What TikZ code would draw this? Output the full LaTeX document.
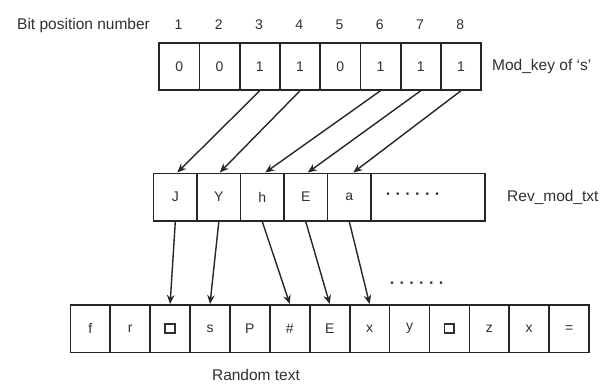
\documentclass[tikz,border=0pt]{standalone}
\usepackage{fontspec}
\setmainfont{Liberation Sans}
\usetikzlibrary{arrows.meta}
\definecolor{linegray}{HTML}{262626}
\definecolor{textgray}{HTML}{303030}
% hollow square standing for an unprintable character
\newcommand\blankchar{{\setlength\fboxrule{1.9pt}\setlength\fboxsep{0pt}\raisebox{-0.5pt}{\fbox{\rule{0pt}{7pt}\hspace{8pt}}}}}
% row of spaced dots
\newcommand\dotrow{·\hspace{4.5pt}·\hspace{4.5pt}·\hspace{4.5pt}·\hspace{4.5pt}·\hspace{4.5pt}·}
\begin{document}
\begin{tikzpicture}[x=1pt,y=-1pt,
  cell/.style={draw=linegray,line width=1.7pt,rectangle,inner sep=0pt,
    anchor=north west,text=textgray,font=\fontsize{14}{16}\selectfont},
  topcell/.style={cell,minimum width=40.25pt,minimum height=47pt},
  midcell/.style={cell,minimum width=43.5pt,minimum height=47.5pt},
  lowcell/.style={cell,minimum width=39.9pt,minimum height=47.7pt},
  lbl/.style={text=textgray,font=\fontsize{15.5}{18}\selectfont,inner sep=0pt},
  num/.style={text=textgray,font=\fontsize{14}{16}\selectfont,inner sep=0pt},
  dots/.style={text=textgray,font=\fontsize{16}{18}\bfseries,inner sep=0pt},
  link/.style={draw=linegray,line width=1.4pt,-{Stealth[length=9pt,width=7.5pt]}}]
\useasboundingbox (0,0) rectangle (609,384);

% key bits and their positions
\node[lbl,anchor=west] (bitlbl) at (17,25) {Bit position number};
\foreach \v [count=\i] in {0,0,1,1,0,1,1,1}{
  \node[topcell] (t\i) at ({158.3+40.25*(\i-1)},42) {\v};
  \node[num] (n\i) at ({158.3+40.25*(\i-0.5)},25) {\i};
}
\node[lbl,anchor=west] (keylbl) at (492,66) {Mod\_key of ‘s’};

% reversed modified text
\foreach \v [count=\i] in {J,Y,h,E,a}{
  \node[midcell] (m\i) at ({152.7+43.5*(\i-1)},172.5) {\v};
}
\node[cell,minimum width=114pt,minimum height=47.5pt] (m6) at (370.2,172.5) {};
\node[dots] (mdots) at (413,196) {\dotrow};
\node[lbl,anchor=west] (revlbl) at (507,197) {Rev\_mod\_txt};

% random text row
\foreach \v [count=\i] in {f,r,\blankchar,s,P,\#,E,x,y,\blankchar,z,x,=}{
  \node[lowcell] (b\i) at ({69.5+39.9*(\i-1)},304) {\v};
}
\node[dots] (bdots) at (417,285) {\dotrow};
\node[lbl] (randlbl) at (256,375) {Random text};

% bits equal to 1 pick the characters
\draw[link] (t3.south) -- ([xshift=2pt]m1.north);
\draw[link] (t4.south) -- ([xshift=1pt]m2.north);
\draw[link] (t6.south) -- ([xshift=3pt]m3.north);
\draw[link] (t7.south) -- ([xshift=2pt]m4.north);
\draw[link] (t8.south) -- ([xshift=4pt]m5.north);

% characters placed into the random text
\draw[link] (m1.south) -- (b3.north);
\draw[link] (m2.south) -- (b4.north);
\draw[link] (m3.south) -- (b6.north);
\draw[link] (m4.south) -- (b7.north);
\draw[link] (m5.south) -- (b8.north);
\end{tikzpicture}
\end{document}
